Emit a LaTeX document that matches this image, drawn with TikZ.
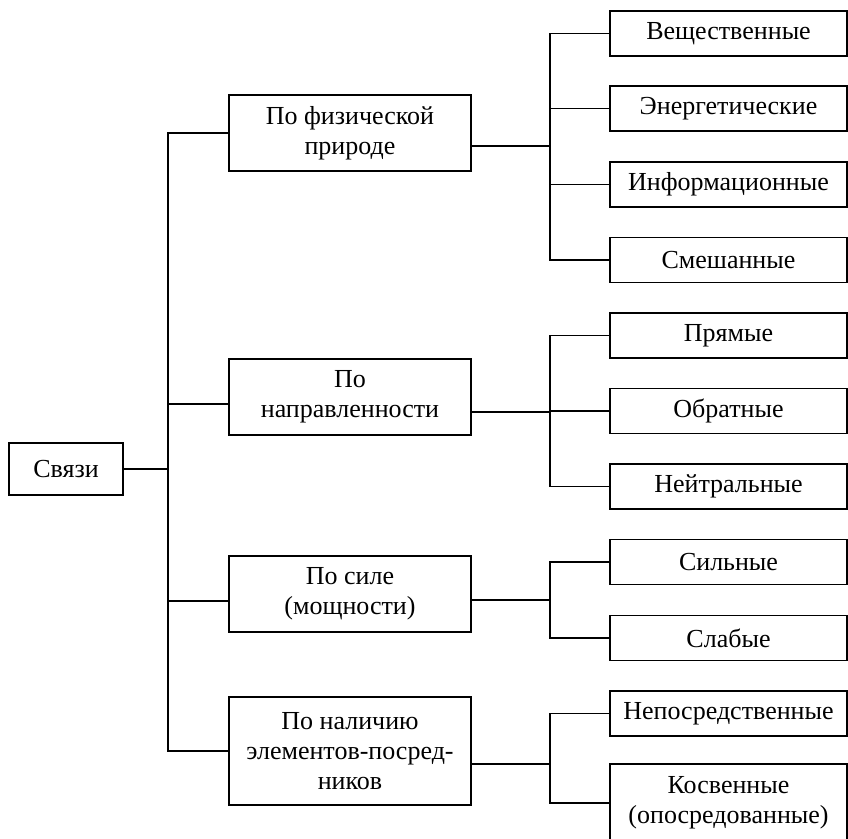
\documentclass[tikz,border=0pt]{standalone}
\usepackage{fontspec}
\setmainfont{Liberation Serif}
\tikzset{
  kbox/.style={draw, line width=1.8pt, align=center, inner sep=0pt,
    font=\fontsize{26}{30}\selectfont},
  rootbox/.style={kbox, minimum width=114pt, minimum height=52pt},
  midbox/.style={kbox, minimum width=242pt, minimum height=76pt},
  leafbox/.style={kbox, minimum width=237pt, minimum height=45pt},
  link/.style={line width=1.8pt}
}

\begin{document}
\begin{tikzpicture}[x=1pt,y=-1pt]
\useasboundingbox (0,0) rectangle (848,838);

% root and groups
\node[rootbox] (svyazi) at (66,469) {Связи};
\node[midbox] (fiz)  at (350,133) {По физической\\природе};
\node[midbox] (napr) at (350,397) {По\\направленности};
\node[midbox] (sila) at (350,594) {По силе\\(мощности)};
\node[midbox, minimum height=108pt] (posr) at (350,751) {По наличию\\элементов-посред-\\ников};

% leaves
\node[leafbox] (vesch)  at (728.5,33.5)  {Вещественные};
\node[leafbox] (energ)  at (728.5,108.5) {Энергетические};
\node[leafbox] (inform) at (728.5,184.5) {Информационные};
\node[leafbox] (smesh)  at (728.5,260)   {Смешанные};
\node[leafbox] (pryam)  at (728.5,335.5) {Прямые};
\node[leafbox] (obrat)  at (728.5,411)   {Обратные};
\node[leafbox] (neitr)  at (728.5,486.5) {Нейтральные};
\node[leafbox] (silnye) at (728.5,562)   {Сильные};
\node[leafbox] (slabye) at (728.5,638)   {Слабые};
\node[leafbox] (neposr) at (728.5,713.5) {Непосредственные};
\node[leafbox, minimum height=78pt] (kosv) at (728.5,803) {Косвенные\\(опосредованные)};

% left bus
\coordinate (busL) at (168,469);
\draw[link] (svyazi.east) -- (busL);
\draw[link] (fiz.west) -| (busL);
\draw[link] (posr.west) -| (busL);
\draw[link] ([yshift=-7pt]napr.west) -- ([yshift=-7pt]napr.west -| busL);
\draw[link] ([yshift=-7pt]sila.west) -- ([yshift=-7pt]sila.west -| busL);

% right buses
\coordinate (busA) at (550,146);
\coordinate (busB) at (550,412);
\coordinate (busC) at (550,600);
\coordinate (busD) at (550,764);
\draw[link] ([yshift=-13pt]fiz.east) -- (busA);
\draw[link] (vesch.west) -| (busA) |- (smesh.west);
\draw[link] (energ.west) -- (energ.west -| busA);
\draw[link] (inform.west) -- (inform.west -| busA);

\draw[link] ([yshift=-15pt]napr.east) -- (busB);
\draw[link] (pryam.west) -| (busB) |- (neitr.west);
\draw[link] (obrat.west) -- (obrat.west -| busB);

\draw[link] ([yshift=-6pt]sila.east) -- (busC);
\draw[link] (silnye.west) -| (busC) |- (slabye.west);

\draw[link] ([yshift=-13pt]posr.east) -- (busD);
\draw[link] (neposr.west) -| (busD) |- (kosv.west);
\end{tikzpicture}
\end{document}
